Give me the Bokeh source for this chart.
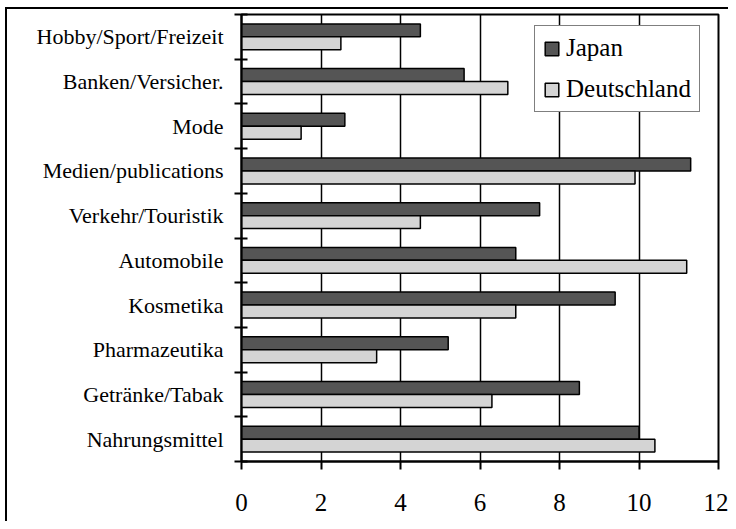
import numpy as np
from bokeh.plotting import figure
from bokeh.models import ColumnDataSource, Range1d, FixedTicker, Legend, LegendItem
from bokeh.transform import dodge
from bokeh.embed import file_html
from bokeh.resources import INLINE

# data (bottom to top)
categories = ["Nahrungsmittel", "Getränke/Tabak", "Pharmazeutika", "Kosmetika",
              "Automobile", "Verkehr/Touristik", "Medien/publications", "Mode",
              "Banken/Versicher.", "Hobby/Sport/Freizeit"]
japan = [10.0, 8.5, 5.2, 9.4, 6.9, 7.5, 11.3, 2.6, 5.6, 4.5]
deutschland = [10.4, 6.3, 3.4, 6.9, 11.2, 4.5, 9.9, 1.5, 6.7, 2.5]
x_ticks = [0, 2, 4, 6, 8, 10, 12]

FONT = "Liberation Serif"
centers = np.arange(len(categories)) + 0.5
src = ColumnDataSource(dict(y=centers, japan=japan, deutschland=deutschland))

p = figure(width=728, height=521, output_backend="svg", toolbar_location=None,
           x_range=Range1d(0, 12), y_range=Range1d(0, len(categories)),
           min_border_left=241, min_border_right=10, min_border_top=14, min_border_bottom=60)
# outer chart border (top and left edges visible), drawn behind the transparent canvas border area
p.styles = {
    "background": ("linear-gradient(#000, #000) 5px 7px / calc(100% - 5px) 2px no-repeat, "
                   "linear-gradient(#000, #000) 5px 7px / 2px calc(100% - 7px) no-repeat, "
                   "#ffffff"),
}

p.outline_line_color = "black"
p.outline_line_width = 2
p.background_fill_color = "white"
p.border_fill_color = None

# grid
p.ygrid.visible = False
p.xgrid.ticker = FixedTicker(ticks=x_ticks)
p.xgrid.grid_line_color = "black"
p.xgrid.grid_line_width = 1.5

bar_h = 0.29
rj = p.hbar(y=dodge("y", bar_h / 2), right="japan", left=0, height=bar_h, source=src,
            fill_color="#555555", line_color="black", line_width=1.5)
rd = p.hbar(y=dodge("y", -bar_h / 2), right="deutschland", left=0, height=bar_h, source=src,
            fill_color="#d4d4d4", line_color="black", line_width=1.5)

# x axis
xa = p.xaxis[0]
xa.ticker = FixedTicker(ticks=x_ticks)
xa.axis_line_width = 2
xa.major_tick_line_width = 2
xa.major_tick_in = 0
xa.major_tick_out = 8
xa.minor_tick_line_color = None
xa.major_label_text_font = FONT
xa.major_label_text_font_size = "25px"
xa.major_label_text_color = "black"
xa.major_label_standoff = 24

# y axis
ya = p.yaxis[0]
ya.ticker = FixedTicker(ticks=list(centers), minor_ticks=list(range(len(categories) + 1)))
ya.major_label_overrides = {float(c): cat for c, cat in zip(centers, categories)}
ya.axis_line_width = 2
ya.major_tick_line_color = None
ya.major_tick_in = 0
ya.major_tick_out = 7
ya.minor_tick_line_color = "black"
ya.minor_tick_line_width = 2
ya.minor_tick_in = 6
ya.minor_tick_out = 7
ya.major_label_text_font = FONT
ya.major_label_text_font_size = "22px"
ya.major_label_text_color = "black"
ya.major_label_standoff = 11

legend = Legend(items=[LegendItem(label="Japan", renderers=[rj]),
                       LegendItem(label="Deutschland", renderers=[rd])],
                location=(293, 349))
legend.label_text_font = FONT
legend.label_text_font_size = "25px"
legend.label_text_color = "black"
legend.glyph_width = 17
legend.glyph_height = 17
legend.label_standoff = 6
legend.padding = 8
legend.spacing = 13
legend.border_line_color = "black"
legend.border_line_width = 1.5
legend.background_fill_alpha = 1
legend.margin = 0
p.add_layout(legend, "center")

open("out.html", "w").write(file_html(p, INLINE))
